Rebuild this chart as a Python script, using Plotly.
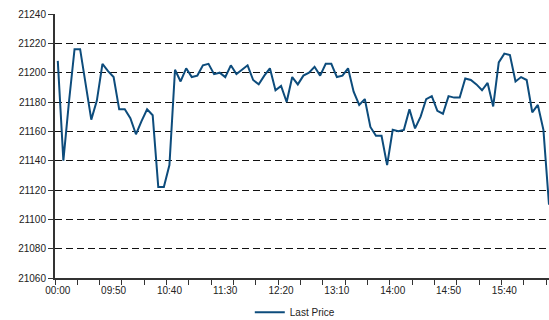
import plotly.graph_objects as go

# Intraday last price, one reading every 5 minutes (first bar is the 00:00 print)
last_price = [
    21208, 21140, 21180, 21216, 21216, 21193, 21168, 21181, 21206, 21201,
    21197, 21175, 21175, 21169, 21158, 21167, 21175, 21171, 21122, 21122,
    21137, 21202, 21194, 21203, 21197, 21198, 21205, 21206, 21199, 21200,
    21197, 21205, 21199, 21202, 21205, 21195, 21192, 21198, 21203, 21188,
    21191, 21180, 21197, 21192, 21198, 21200, 21204, 21198, 21206, 21206,
    21197, 21198, 21203, 21187, 21178, 21182, 21163, 21157, 21157, 21137,
    21161, 21160, 21161, 21175, 21162, 21170, 21182, 21184, 21174, 21172,
    21184, 21183, 21183, 21196, 21195, 21192, 21188, 21193, 21177, 21207,
    21213, 21212, 21194, 21197, 21195, 21173, 21178, 21161, 21110,
]

# Time categories: opening print at 00:00, then 5-minute steps from 09:05
times = ["00:00"] + [
    f"{(9 * 60 + 5 * i) // 60:02d}:{(9 * 60 + 5 * i) % 60:02d}"
    for i in range(1, len(last_price))
]

label_every = 10
tick_pos = list(range(0, len(times), label_every))
tick_labels = [times[i] for i in tick_pos]

y_ticks = list(range(21060, 21241, 20))

idx = list(range(len(last_price)))

fig = go.Figure()
fig.add_trace(go.Scatter(
    x=idx,
    y=last_price,
    mode="lines",
    name="Last Price",
    line=dict(color="#0d4c7c", width=2),
    customdata=times,
    hovertemplate="%{customdata}: %{y}<extra></extra>",
))

font = dict(family="Liberation Sans, Arial, sans-serif", size=10, color="#222222")

fig.update_layout(
    width=549,
    height=320,
    margin=dict(l=55, r=0, t=14, b=42, autoexpand=False),
    paper_bgcolor="white",
    plot_bgcolor="white",
    font=font,
    showlegend=True,
    legend=dict(
        orientation="h",
        xref="container", yref="container",
        x=0.455, xanchor="left",
        y=0.024, yanchor="middle",
        font=font,
        bgcolor="rgba(0,0,0,0)",
    ),
    xaxis=dict(
        range=[-0.5, 88.0],
        tickmode="array",
        tickvals=tick_pos,
        ticktext=tick_labels,
        ticks="",
        ticklabelstandoff=2,
        showgrid=False,
        zeroline=False,
        showline=True,
        linecolor="#333333",
        linewidth=2,
        minor=dict(
            tick0=-0.5,
            dtick=4,
            ticks="outside",
            ticklen=5,
            tickwidth=1,
            tickcolor="#333333",
            showgrid=False,
        ),
        tickfont=font,
    ),
    yaxis=dict(
        range=[21060, 21240],
        tickmode="array",
        tickvals=y_ticks,
        ticktext=[str(v) for v in y_ticks],
        ticks="outside",
        ticklen=5,
        tickwidth=1,
        tickcolor="#333333",
        showgrid=True,
        gridcolor="#111111",
        gridwidth=1,
        griddash="7px,4px",
        zeroline=False,
        showline=True,
        linecolor="#333333",
        linewidth=2,
        tickfont=font,
    ),
)

fig.write_html("out.html")
